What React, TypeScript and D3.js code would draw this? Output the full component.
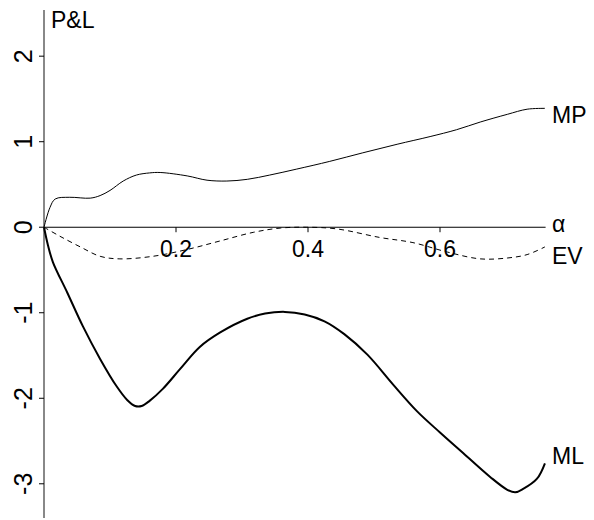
import React, { useEffect, useRef } from "react";
import * as d3 from "d3";

// alpha values and P&L for each strategy
const mpAlpha = [0, 0.009, 0.017, 0.039, 0.07, 0.085, 0.1, 0.12, 0.14, 0.16, 0.176, 0.217, 0.247, 0.277, 0.308, 0.342, 0.383, 0.433, 0.483, 0.535, 0.585, 0.625, 0.661, 0.702, 0.732, 0.759];
const mpValue = [0, 0.23, 0.33, 0.35, 0.34, 0.37, 0.43, 0.54, 0.61, 0.635, 0.64, 0.6, 0.55, 0.54, 0.56, 0.61, 0.68, 0.77, 0.87, 0.97, 1.06, 1.14, 1.23, 1.32, 1.38, 1.39];

const evAlpha = [0, 0.024, 0.055, 0.085, 0.115, 0.165, 0.217, 0.267, 0.317, 0.358, 0.398, 0.444, 0.509, 0.559, 0.611, 0.661, 0.702, 0.732, 0.759];
const evValue = [0, -0.105, -0.23, -0.34, -0.37, -0.34, -0.26, -0.16, -0.06, -0.01, 0, -0.02, -0.12, -0.18, -0.29, -0.37, -0.36, -0.32, -0.23];

const mlAlpha = [0, 0.006, 0.0136, 0.035, 0.059, 0.085, 0.11, 0.126, 0.138, 0.148, 0.16, 0.18, 0.206, 0.236, 0.267, 0.308, 0.335, 0.365, 0.395, 0.425, 0.455, 0.49, 0.529, 0.565, 0.6, 0.635, 0.676, 0.702, 0.714, 0.726, 0.747, 0.759];
const mlValue = [0, -0.21, -0.41, -0.76, -1.16, -1.54, -1.86, -2.02, -2.09, -2.09, -2.03, -1.89, -1.66, -1.4, -1.23, -1.07, -1.01, -0.99, -1.02, -1.1, -1.25, -1.49, -1.84, -2.15, -2.4, -2.64, -2.92, -3.07, -3.1, -3.06, -2.94, -2.76];

const yTicks = [-3, -2, -1, 0, 1, 2];
const xTicks = [0.2, 0.4, 0.6];

export default function App() {
  const svgRef = useRef<SVGSVGElement>(null);

  const width = 594;
  const height = 520;
  const font = "'Liberation Sans', Arial, sans-serif";

  useEffect(() => {
    const svg = d3.select(svgRef.current);
    svg.selectAll("*").remove();

    const x = d3.scaleLinear().domain([0, 0.76]).range([44, 545.6]);
    const y = d3.scaleLinear().domain([-3.4, 2.54]).range([518, 10]);

    const line = d3
      .line<[number, number]>()
      .x((d) => x(d[0]))
      .y((d) => y(d[1]))
      .curve(d3.curveCatmullRom.alpha(0.5));

    // y axis (grey line, ticks to the left, rotated labels)
    svg
      .append("line")
      .attr("x1", x(0))
      .attr("x2", x(0))
      .attr("y1", y(2.54))
      .attr("y2", y(-3.4))
      .attr("stroke", "#888")
      .attr("stroke-width", 2);

    const yg = svg.append("g");
    yTicks.forEach((t) => {
      yg.append("line")
        .attr("x1", x(0) - 5)
        .attr("x2", x(0))
        .attr("y1", y(t))
        .attr("y2", y(t))
        .attr("stroke", "#000");
      yg.append("text")
        .attr("transform", `translate(32, ${y(t)}) rotate(-90)`)
        .attr("text-anchor", "middle")
        .attr("font-family", font)
        .attr("font-size", 25)
        .text(t);
    });

    // x axis through zero
    svg
      .append("line")
      .attr("x1", x(0))
      .attr("x2", x(0.76))
      .attr("y1", y(0))
      .attr("y2", y(0))
      .attr("stroke", "#000")
      .attr("stroke-width", 1.2);

    xTicks.forEach((t) => {
      svg
        .append("line")
        .attr("x1", x(t))
        .attr("x2", x(t))
        .attr("y1", y(0))
        .attr("y2", y(0) + 5)
        .attr("stroke", "#000");
      svg
        .append("text")
        .attr("x", x(t))
        .attr("y", y(0) + 30)
        .attr("text-anchor", "middle")
        .attr("font-family", font)
        .attr("font-size", 23)
        .text(t);
    });

    const curves = [
      { a: mpAlpha, v: mpValue, w: 1, dash: null },
      { a: evAlpha, v: evValue, w: 1, dash: "5,4" },
      { a: mlAlpha, v: mlValue, w: 2, dash: null },
    ];
    curves.forEach((c) => {
      const pts = c.a.map((a, i) => [a, c.v[i]] as [number, number]);
      svg
        .append("path")
        .attr("d", line(pts))
        .attr("fill", "none")
        .attr("stroke", "#000")
        .attr("stroke-width", c.w)
        .attr("stroke-dasharray", c.dash);
    });

    const labels = [
      { t: "P&L", x: 51, y: 28 },
      { t: "MP", x: 552, y: 123 },
      { t: "α", x: 552, y: 232 },
      { t: "EV", x: 552, y: 264 },
      { t: "ML", x: 552, y: 464 },
    ];
    labels.forEach((l) => {
      svg
        .append("text")
        .attr("x", l.x)
        .attr("y", l.y)
        .attr("font-family", font)
        .attr("font-size", 23)
        .text(l.t);
    });
  }, []);

  return (
    <svg
      ref={svgRef}
      width={width}
      height={height}
      style={{ position: "absolute", left: 0, top: 0, background: "#fff" }}
    ></svg>
  );
}
